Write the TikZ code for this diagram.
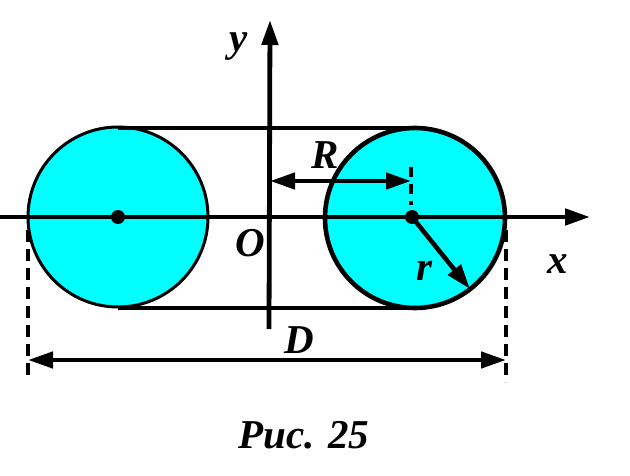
\documentclass[tikz,border=0pt]{standalone}
\usepackage{fontspec}
\setmainfont{Liberation Serif}
\usetikzlibrary{arrows.meta}
\definecolor{aqua}{RGB}{0,255,255}
\tikzset{
  lbl/.style={font=\fontsize{41}{48}\selectfont\bfseries\itshape, inner sep=0pt, anchor=base},
  tip/.style={-{Triangle[length=25pt,width=16pt]}},
  tips/.style={{Triangle[length=25pt,width=16pt]}-{Triangle[length=25pt,width=16pt]}},
  axis/.style={line width=4.8pt},
  dimline/.style={line width=4pt, dash pattern=on 12pt off 7pt}
}
\begin{document}
\begin{tikzpicture}[x=1pt,y=-1pt]
\useasboundingbox (0,0) rectangle (630,476);
\coordinate (C1) at (118,217);
\coordinate (C2) at (412,217);
\coordinate (K2) at (415,218);
% disks
\fill[aqua] (C1) circle[radius=90pt];
\fill[aqua] (K2) circle[radius=90pt];
% tangent lines
\coordinate (T1) at (118,128);
\coordinate (T2) at (412,128);
\coordinate (B1) at (118,308);
\coordinate (B2) at (412,308);
\draw[line width=3.5pt] (T1) -- (T2);
\draw[line width=3.5pt] (B1) -- (B2);
\draw[line width=3pt] (C1) circle[radius=90pt];
\draw[line width=4.6pt] (K2) circle[radius=90pt];
% axes
\coordinate (xs) at (0,217);
\coordinate (xe) at (590,217);
\coordinate (ys) at (269,329);
\coordinate (ye) at (270,20);
\draw[axis,tip] (xs) -- (xe);
\draw[axis,tip] (ys) -- (ye);
% centers
\fill (C1) circle[radius=7pt];
\fill (C2) circle[radius=7pt];
% R
\coordinate (Ra) at (270,181);
\coordinate (Rb) at (411,181);
\draw[line width=4.6pt,tips] (Ra) -- (Rb);
\coordinate (Rt) at (411,167);
\coordinate (Rd) at (411,205);
\draw[line width=4pt, dash pattern=on 10pt off 7pt] (Rt) -- (Rd);
% r
\coordinate (rt) at (470,289);
\draw[line width=4.6pt,tip] (C2) -- (rt);
% D
\coordinate (Dl) at (28,230);
\coordinate (Dl2) at (28,376);
\coordinate (Dr) at (506,230);
\coordinate (Dr2) at (506,382);
\draw[dimline] (Dl) -- (Dl2);
\draw[dimline] (Dr) -- (Dr2);
\coordinate (Da) at (28,360);
\coordinate (Db) at (506,360);
\draw[line width=4.6pt,tips] (Da) -- (Db);
% labels
\node[lbl] (ly) at (239,52) {y};
\node[lbl] (lR) at (325,169) {R};
\node[lbl] (lO) at (250,257) {O};
\node[lbl] (lr) at (424,280) {r};
\node[lbl] (lx) at (558,273) {x};
\node[lbl] (lD) at (299,353) {D};
\node[lbl] (cap) at (304,448) {Рис. 25};
\end{tikzpicture}
\end{document}
